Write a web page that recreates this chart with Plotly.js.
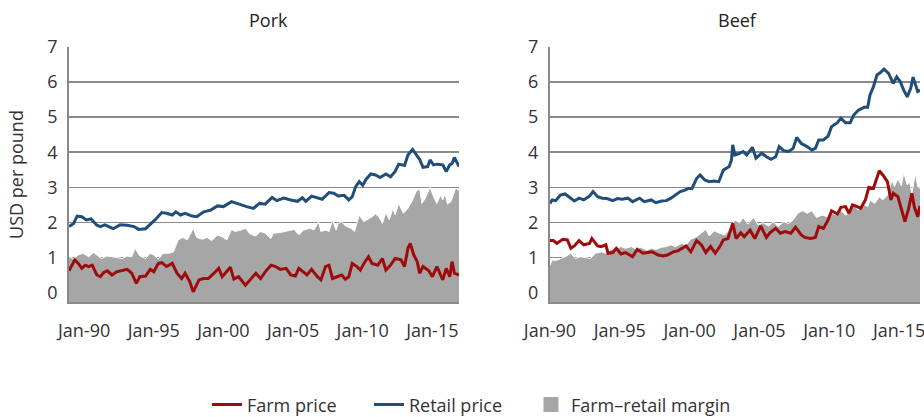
<!DOCTYPE html>
<html>
<head>
<meta charset="utf-8">
<script src="https://cdn.plot.ly/plotly-3.0.1.min.js"></script>
<style>html,body{margin:0;padding:0;background:#fff}#chart{width:924px;height:417px}</style>
</head>
<body>
<div id="chart"></div>
<script>
// ---------- DATA (USD per pound) ----------
const tickDates = ['1990-01-01','1995-01-01','2000-01-01','2005-01-01','2010-01-01','2015-01-01'];
const tickLabels = ['Jan-90','Jan-95','Jan-00','Jan-05','Jan-10','Jan-15'];

// Pork
const porkRetailDates = ['1988-12','1989-04','1989-07','1989-11','1990-03','1990-07','1990-12','1991-03','1991-07','1992-02',
'1992-08','1993-02','1993-08','1993-12','1994-06','1994-10','1995-02','1995-08','1995-12','1996-05',
'1996-08','1996-12','1997-04','1997-10','1998-02','1998-08','1999-02','1999-08','2000-01','2000-08',
'2001-02','2001-09','2002-03','2002-08','2003-01','2003-07','2003-11','2004-05','2004-11','2005-05',
'2005-09','2005-12','2006-05','2006-10','2007-02','2007-08','2007-12','2008-04','2008-09','2009-01',
'2009-04','2009-07','2009-10','2010-01','2010-04','2010-08','2010-12','2011-04','2011-09','2012-01',
'2012-05','2012-08','2013-01','2013-04','2013-08','2013-12','2014-02','2014-05','2014-09','2014-11',
'2015-02','2015-05','2015-10','2016-01','2016-04','2016-06','2016-08','2016-12'];
const porkRetail = [1.88,1.97,2.18,2.16,2.07,2.10,1.92,1.88,1.93,1.82,
1.93,1.92,1.88,1.80,1.82,1.94,2.07,2.28,2.26,2.21,
2.30,2.21,2.26,2.18,2.16,2.30,2.35,2.47,2.45,2.59,
2.52,2.45,2.40,2.54,2.52,2.71,2.62,2.69,2.64,2.60,
2.70,2.60,2.75,2.71,2.66,2.85,2.83,2.75,2.77,2.64,
2.73,3.02,3.16,3.06,3.23,3.38,3.35,3.28,3.38,3.30,
3.45,3.66,3.62,3.92,4.08,3.89,3.80,3.57,3.59,3.78,
3.64,3.66,3.64,3.45,3.64,3.68,3.85,3.59];

const porkFarmDates = ['1988-12','1989-02','1989-05','1989-08','1989-11','1990-02','1990-05','1990-08','1990-12','1991-03',
'1991-06','1991-09','1992-01','1992-05','1992-10','1993-02','1993-06','1993-10','1994-01','1994-06',
'1994-10','1995-01','1995-05','1995-08','1995-12','1996-05','1996-09','1997-01','1997-04','1997-08',
'1997-11','1998-04','1998-08','1998-12','1999-05','1999-09','1999-12','2000-04','2000-07','2000-10',
'2001-02','2001-08','2001-12','2002-05','2002-09','2003-01','2003-06','2003-10','2004-02','2004-07',
'2004-11','2005-03','2005-06','2005-10','2006-01','2006-05','2006-10','2007-01','2007-05','2007-08',
'2007-11','2008-03','2008-07','2008-10','2009-01','2009-04','2009-08','2009-11','2010-02','2010-06',
'2010-09','2011-02','2011-06','2011-09','2012-01','2012-05','2012-10','2013-01','2013-04','2013-06',
'2013-09','2013-12','2014-02','2014-05','2014-10','2015-01','2015-05','2015-10','2016-01','2016-04',
'2016-06','2016-08','2016-12'];
const porkFarm = [0.62,0.74,0.93,0.83,0.69,0.78,0.74,0.78,0.50,0.45,
0.57,0.62,0.50,0.59,0.62,0.66,0.55,0.26,0.45,0.47,
0.66,0.59,0.83,0.85,0.74,0.83,0.55,0.40,0.55,0.31,
0.02,0.36,0.40,0.40,0.55,0.69,0.45,0.62,0.72,0.38,
0.45,0.21,0.36,0.55,0.40,0.59,0.78,0.74,0.66,0.69,
0.50,0.47,0.69,0.57,0.50,0.66,0.45,0.36,0.74,0.78,
0.40,0.45,0.50,0.38,0.45,0.83,0.74,0.64,0.83,1.02,
0.83,0.78,0.97,0.64,0.78,0.97,0.93,0.74,1.26,1.40,
1.07,0.88,0.55,0.74,0.62,0.45,0.74,0.36,0.69,0.45,
0.88,0.55,0.50];

const porkMarginDates = ['1988-12','1989-04','1989-08','1989-12','1990-05','1990-09','1990-12','1991-04','1991-09','1992-01',
'1992-05','1992-10','1993-02','1993-06','1993-09','1994-01','1994-06','1994-10','1995-01','1995-05',
'1995-09','1996-02','1996-06','1996-10','1997-02','1997-06','1997-11','1998-02','1998-07','1998-11',
'1999-03','1999-08','1999-12','2000-04','2000-08','2000-11','2001-04','2001-08','2001-12','2002-05',
'2002-09','2003-01','2003-06','2003-08','2004-02','2004-07','2004-11','2005-02','2005-06','2005-10',
'2006-04','2006-07','2006-11','2007-01','2007-05','2007-08','2007-11','2008-02','2008-04','2008-07',
'2008-10','2009-03','2009-06','2009-10','2010-02','2010-05','2010-09','2010-12','2011-03','2011-06',
'2011-09','2011-12','2012-03','2012-05','2012-08','2012-12','2013-04','2013-08','2013-11','2014-02',
'2014-04','2014-07','2014-11','2015-02','2015-05','2015-08','2015-10','2015-12','2016-02','2016-05',
'2016-07','2016-09','2016-12'];
const porkMargin = [1.02,0.97,1.07,1.12,1.02,1.14,1.07,0.97,1.04,1.02,
1.00,0.97,1.04,1.02,1.26,1.04,0.97,1.12,1.07,0.95,
1.12,1.12,1.16,1.50,1.57,1.50,1.83,1.57,1.52,1.57,
1.48,1.64,1.59,1.50,1.80,1.74,1.78,1.83,1.67,1.61,
1.74,1.69,1.54,1.69,1.71,1.74,1.78,1.80,1.64,1.78,
1.83,1.78,2.02,1.74,1.78,1.74,2.07,1.78,1.97,2.02,
1.90,1.83,1.74,2.21,2.02,2.07,2.16,2.24,2.16,1.97,
2.28,2.07,2.40,2.21,2.54,2.26,2.40,2.64,2.88,2.97,
2.54,2.69,3.00,2.73,2.54,2.78,2.64,2.83,2.52,2.59,
2.78,2.97,2.92];

// Beef
const beefRetailDates = ['1990-01','1990-03','1990-06','1990-10','1991-02','1991-05','1991-10','1992-02','1992-06','1992-11',
'1993-02','1993-06','1993-10','1994-02','1994-07','1994-11','1995-03','1995-08','1995-12','1996-06',
'1996-10','1997-04','1997-08','1998-01','1998-05','1998-09','1999-01','1999-05','1999-09','1999-12',
'2000-03','2000-07','2000-10','2001-02','2001-06','2001-10','2002-02','2002-06','2002-11','2003-01',
'2003-02','2003-04','2003-08','2003-11','2004-02','2004-07','2004-10','2005-03','2005-07','2005-11',
'2006-03','2006-06','2006-10','2007-02','2007-06','2007-09','2008-01','2008-06','2008-10','2009-01',
'2009-04','2009-08','2009-12','2010-03','2010-08','2010-11','2011-03','2011-07','2011-10','2012-02',
'2012-07','2012-10','2012-12','2013-03','2013-06','2013-09','2013-12','2014-04','2014-08','2014-11',
'2015-02','2015-05','2015-08','2015-11','2016-01','2016-05','2016-07'];
const beefRetail = [2.54,2.64,2.62,2.78,2.81,2.73,2.61,2.69,2.64,2.75,
2.88,2.73,2.69,2.68,2.62,2.68,2.66,2.69,2.59,2.69,
2.59,2.64,2.56,2.61,2.62,2.69,2.78,2.88,2.92,2.97,
2.96,3.25,3.35,3.21,3.16,3.18,3.16,3.49,3.59,3.78,
4.21,3.92,3.97,4.02,3.92,4.14,3.83,3.97,3.87,3.80,
3.87,4.16,4.04,4.02,4.11,4.42,4.25,4.16,4.06,4.11,
4.35,4.35,4.46,4.73,4.84,4.97,4.84,4.84,5.06,5.20,
5.28,5.28,5.63,5.87,6.20,6.27,6.37,6.25,5.96,6.15,
6.01,5.77,5.58,5.82,6.14,5.73,5.77];

const beefFarmDates = ['1990-01','1990-04','1990-07','1990-12','1991-04','1991-07','1991-10','1992-02','1992-06','1992-11',
'1993-01','1993-06','1993-09','1994-01','1994-03','1994-07','1994-10','1995-02','1995-06','1995-12',
'1996-04','1996-09','1997-01','1997-05','1997-10','1998-02','1998-06','1998-11','1999-03','1999-07',
'1999-10','2000-02','2000-07','2000-11','2001-03','2001-07','2001-11','2002-03','2002-06','2002-10',
'2003-02','2003-05','2003-09','2003-12','2004-05','2004-09','2005-02','2005-07','2005-10','2006-03',
'2006-07','2006-11','2007-04','2007-08','2008-01','2008-04','2008-09','2009-01','2009-04','2009-08',
'2009-12','2010-03','2010-08','2010-11','2011-03','2011-06','2011-09','2012-01','2012-04','2012-08',
'2012-11','2013-03','2013-08','2013-11','2014-03','2014-06','2014-08','2014-12','2015-04','2015-06',
'2015-09','2015-12','2016-02','2016-05','2016-07'];
const beefFarm = [1.48,1.48,1.40,1.52,1.50,1.26,1.33,1.48,1.36,1.40,
1.54,1.33,1.31,1.36,1.12,1.14,1.26,1.10,1.14,1.02,
1.23,1.12,1.14,1.16,1.07,1.04,1.07,1.16,1.19,1.26,
1.33,1.16,1.48,1.36,1.14,1.31,1.12,1.31,1.50,1.54,
1.97,1.54,1.70,1.59,1.78,1.54,1.90,1.57,1.70,1.83,
1.69,1.74,1.69,1.86,1.64,1.57,1.54,1.57,1.88,1.83,
2.07,2.33,2.24,2.43,2.45,2.26,2.50,2.45,2.40,2.64,
3.00,2.97,3.47,3.35,3.16,2.64,2.83,2.73,2.26,2.02,
2.37,2.83,2.45,2.16,2.47];

const beefMarginDates = ['1990-01','1990-03','1990-06','1990-10','1991-02','1991-07','1991-11','1992-03','1992-08','1992-12',
'1993-04','1993-09','1994-01','1994-05','1994-10','1995-02','1995-06','1995-11','1996-03','1996-07',
'1996-12','1997-04','1997-08','1998-01','1998-05','1998-09','1999-01','1999-06','1999-10','2000-02',
'2000-07','2000-11','2001-03','2001-06','2001-10','2002-03','2002-07','2002-11','2003-04','2003-08',
'2003-11','2004-03','2004-08','2004-12','2005-04','2005-09','2006-01','2006-05','2006-10','2007-02',
'2007-06','2007-10','2008-02','2008-06','2008-10','2009-02','2009-07','2009-11','2010-03','2010-08',
'2010-10','2011-03','2011-07','2011-10','2012-02','2012-05','2012-10','2012-12','2013-04','2013-08',
'2013-11','2014-03','2014-07','2014-09','2014-12','2015-03','2015-05','2015-08','2015-10','2015-12',
'2016-03','2016-05','2016-07'];
const beefMargin = [0.78,0.93,0.91,0.97,1.02,1.12,0.97,1.02,1.00,0.97,
1.12,1.16,1.12,1.21,1.26,1.31,1.26,1.31,1.23,1.29,
1.21,1.26,1.23,1.29,1.31,1.36,1.31,1.40,1.36,1.52,
1.59,1.69,1.80,1.61,1.76,1.69,1.64,1.78,2.07,1.99,
2.14,1.95,2.14,1.92,1.99,1.90,2.02,1.88,2.02,1.97,
2.07,2.26,2.33,2.26,2.33,2.14,2.21,2.16,2.26,2.21,
2.37,2.21,2.30,2.50,2.35,2.54,2.45,2.64,2.54,2.73,
2.64,2.78,3.21,3.02,3.25,3.04,3.42,3.07,3.16,2.83,
3.40,3.02,2.97];

// ---------- STYLE ----------
const RED = '#9e0b0b', BLUE = '#1f4e79', GREY = '#a6a6a6', GRID = '#8a8a8a', TXT = '#333333';
const Y_MIN = -0.27, Y_MAX = 7;
const porkRange = [porkRetailDates[0], porkRetailDates[porkRetailDates.length - 1]];
const beefRange = [beefRetailDates[0], beefRetailDates[beefRetailDates.length - 1]];

function panel(xa, ya, range, marginDates, margin, retailDates, retail, farmDates, farm, legend) {
  return [
    // baseline at the bottom of the axis so the margin area reaches the axis line
    {x: range, y: [Y_MIN, Y_MIN], xaxis: xa, yaxis: ya, mode: 'lines', line: {width: 0},
     showlegend: false, hoverinfo: 'skip'},
    {x: marginDates, y: margin, xaxis: xa, yaxis: ya, mode: 'lines', name: 'Farm–retail margin',
     fill: 'tonexty', fillcolor: GREY, line: {color: '#ffffff', width: 1}, showlegend: false},
    {x: retailDates, y: retail, xaxis: xa, yaxis: ya, mode: 'lines', name: 'Retail price',
     line: {color: BLUE, width: 3}, showlegend: legend, legendrank: 2},
    {x: farmDates, y: farm, xaxis: xa, yaxis: ya, mode: 'lines', name: 'Farm price',
     line: {color: RED, width: 3}, showlegend: legend, legendrank: 1}
  ];
}

const data = [].concat(
  panel('x', 'y', porkRange, porkMarginDates, porkMargin, porkRetailDates, porkRetail, porkFarmDates, porkFarm, true),
  panel('x2', 'y2', beefRange, beefMarginDates, beefMargin, beefRetailDates, beefRetail, beefFarmDates, beefFarm, false),
  [{x: [null], y: [null], xaxis: 'x', yaxis: 'y', mode: 'markers', name: 'Farm–retail margin',
    marker: {symbol: 'square', size: 15, color: GREY}, showlegend: true, legendrank: 3,
    legendwidth: 175, hoverinfo: 'skip'}]
);

function xAxis(domain, range, anchor) {
  return {domain: domain, range: range, type: 'date', anchor: anchor,
    tickvals: tickDates, ticktext: tickLabels, ticks: '', showgrid: false,
    showline: true, linecolor: GRID, linewidth: 2, zeroline: false,
    ticklabelstandoff: 11, ticklabeloverflow: 'allow', tickfont: {size: 18, color: TXT}};
}
function yAxis(anchor, title) {
  const ax = {domain: [0.2758, 0.8873], range: [Y_MIN, Y_MAX], anchor: anchor,
    tickvals: [0,1,2,3,4,5,6,7], ticks: '', showgrid: true, gridcolor: GRID, gridwidth: 1.5,
    showline: true, linecolor: GRID, linewidth: 2, zeroline: false,
    ticklabelstandoff: 6, tickfont: {size: 18, color: TXT}};
  if (title) ax.title = {text: title, font: {size: 18, color: TXT}, standoff: 19};
  return ax;
}

const layout = {
  width: 924, height: 417,
  margin: {l: 0, r: 0, t: 0, b: 0, autoexpand: false},
  paper_bgcolor: '#ffffff', plot_bgcolor: '#ffffff',
  font: {family: '"Open Sans", "Noto Sans", sans-serif', size: 18, color: TXT},
  xaxis: xAxis([0.0747, 0.4968], ['1988-12-01', '2016-12-01'], 'y'),
  yaxis: yAxis('x', 'USD per pound'),
  xaxis2: xAxis([0.5952, 0.9957], ['1990-01-01', '2016-07-01'], 'y2'),
  yaxis2: yAxis('x2', null),
  showlegend: true,
  legend: {orientation: 'h', x: 0.224, y: 0.029, xanchor: 'left', yanchor: 'middle',
    entrywidth: 117, entrywidthmode: 'pixels',
    font: {size: 18, color: TXT}, bgcolor: 'rgba(0,0,0,0)', traceorder: 'normal'},
  annotations: [
    {text: 'Pork', xref: 'paper', yref: 'paper', x: 0.291, y: 0.952, showarrow: false,
     xanchor: 'center', yanchor: 'middle', font: {size: 18, color: '#222'}},
    {text: 'Beef', xref: 'paper', yref: 'paper', x: 0.798, y: 0.952, showarrow: false,
     xanchor: 'center', yanchor: 'middle', font: {size: 18, color: '#222'}}
  ]
};

Plotly.newPlot('chart', data, layout, {displayModeBar: false, staticPlot: true});
</script>
</body>
</html>
